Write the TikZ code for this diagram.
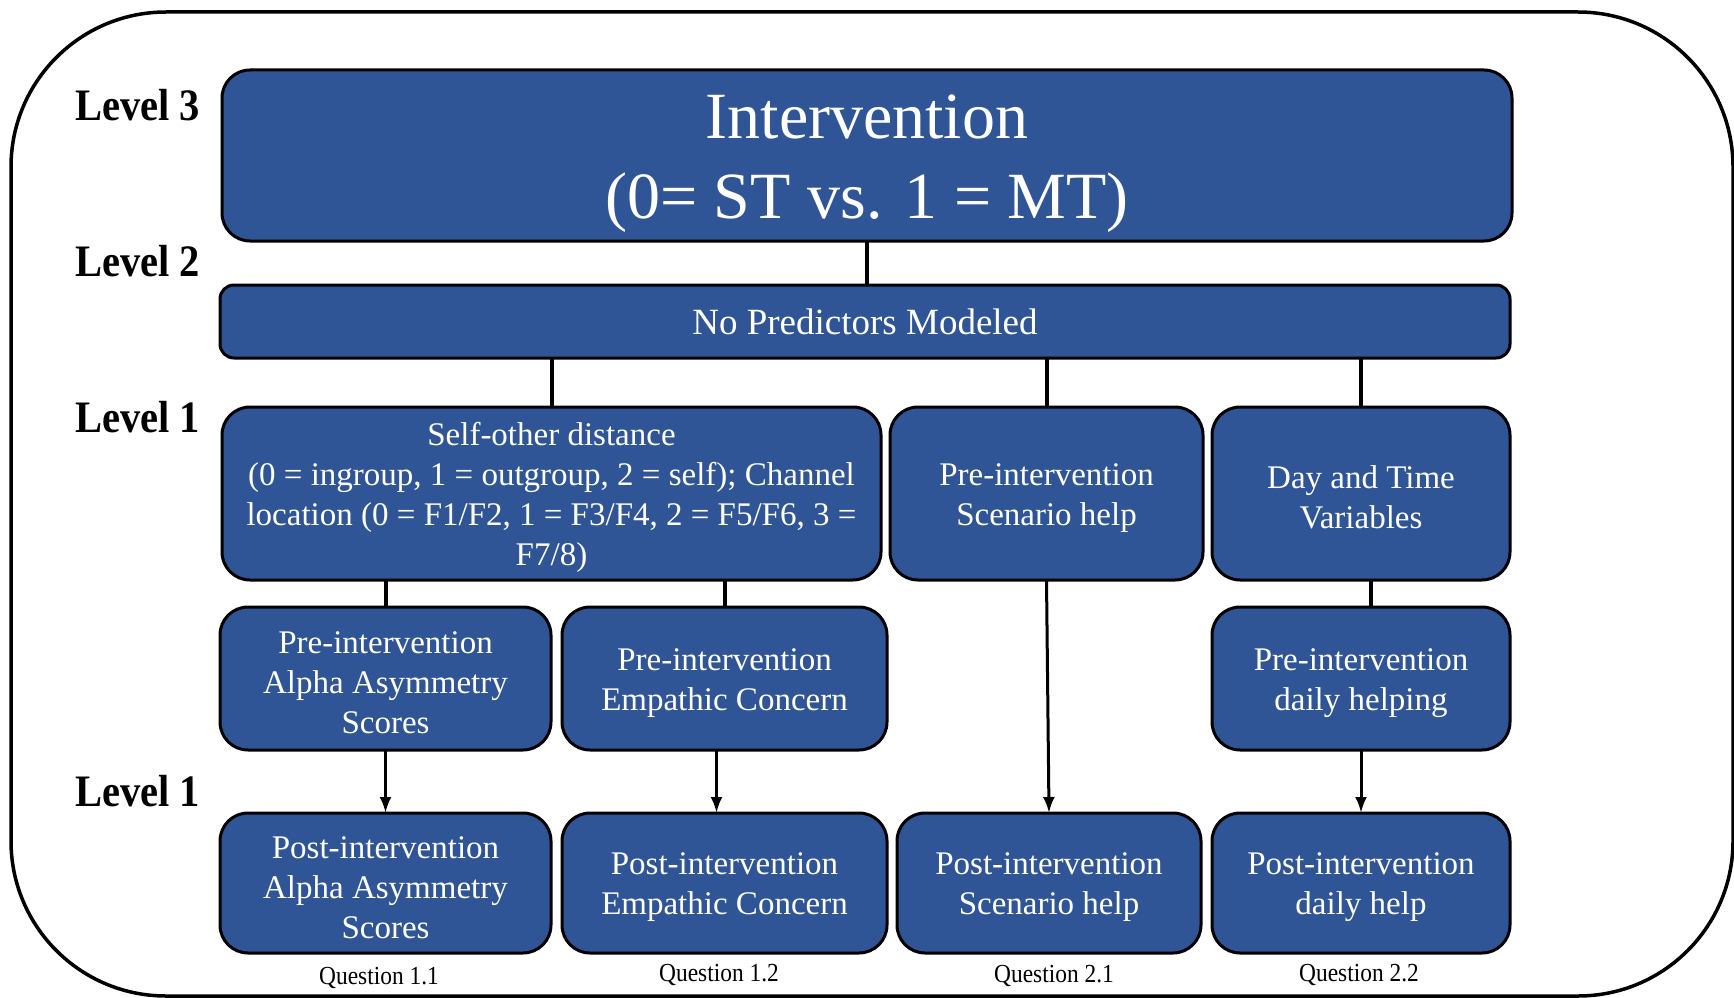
\documentclass[tikz,border=0pt]{standalone}
\usepackage{fontspec}
\setmainfont{Liberation Serif}
\newfontfamily\levelfont{Liberation Serif}[FakeStretch=0.9]
\usepackage{tikz}
\usetikzlibrary{positioning}
\usetikzlibrary{arrows.meta}
\definecolor{boxblue}{HTML}{2F5597}
\newcommand\boxlift{\rule{0pt}{31pt}}
\newcommand\titlelift{\rule{0pt}{60pt}}
\tikzset{
  box/.style       = {shape=rectangle, rounded corners=28pt,
                      draw=black, line width=3pt, fill=boxblue,
                      text=white, align=center, inner sep=0pt, outer sep=0pt,
                      font=\fontsize{33}{40}\selectfont},
  titlebox/.style  = {box, font=\fontsize{66}{80}\selectfont},
  flatbox/.style   = {box, rounded corners=14pt, font=\fontsize{37}{44}\selectfont},
  levellabel/.style = {anchor=west, inner sep=0pt, font=\levelfont\bfseries\fontsize{45}{50}\selectfont},
  qlabel/.style    = {inner sep=0pt, font=\levelfont\fontsize{26}{30}\selectfont},
  link/.style      = {line width=4pt},
  flow/.style      = {line width=3pt, -{Latex[length=16pt,width=12pt]}}
}
\begin{document}
\begin{tikzpicture}[x=1pt,y=-1pt]
  \useasboundingbox (0,0) rectangle (1734,998);
  % frame
  \draw[line width=3.5pt, rounded corners=155pt] (11,12) rectangle (1733,996);

  % level 3 and 2
  \node[titlebox, anchor=north west, minimum width=1290pt, minimum height=171pt]
    (interv) at (222,70) {\titlelift Intervention\\(0= ST vs. 1 = MT)};
  \node[flatbox, anchor=north west, minimum width=1290pt, minimum height=73pt]
    (nopred) at (220,285) {No Predictors Modeled};

  % level 1 predictors
  \node[box, anchor=north west, minimum width=659pt, minimum height=173pt]
    (selfother) at (222,407) {\boxlift Self-other distance\\(0 = ingroup, 1 = outgroup, 2 = self); Channel\\location (0 = F1/F2, 1 = F3/F4, 2 = F5/F6, 3 =\\F7/8)};
  \node[box, minimum width=313pt, minimum height=173pt]
    (scenario) [right=9pt of selfother] {\boxlift Pre-intervention\\Scenario help};
  \node[box, minimum width=298pt, minimum height=173pt]
    (daytime) [right=9pt of scenario] {\boxlift Day and Time\\Variables};

  \node[box, anchor=north west, minimum width=331pt, minimum height=143pt]
    (prealpha) at (220,607) {\boxlift Pre-intervention\\Alpha Asymmetry\\Scores};
  \node[box, minimum width=325pt, minimum height=143pt]
    (preempathy) [right=11pt of prealpha] {\boxlift Pre-intervention\\Empathic Concern};
  \node[box, anchor=north west, minimum width=298pt, minimum height=143pt]
    (predaily) at (1212,607) {\boxlift Pre-intervention\\daily helping};

  % level 1 outcomes
  \node[box, anchor=north west, minimum width=331pt, minimum height=140pt]
    (postalpha) at (220,813) {\boxlift Post-intervention\\Alpha Asymmetry\\Scores};
  \node[box, minimum width=325pt, minimum height=140pt]
    (postempathy) [right=11pt of postalpha] {\boxlift Post-intervention\\Empathic Concern};
  \node[box, minimum width=304pt, minimum height=140pt]
    (postscenario) [right=10pt of postempathy] {\boxlift Post-intervention\\Scenario help};
  \node[box, minimum width=298pt, minimum height=140pt]
    (postdaily) [right=11pt of postscenario] {\boxlift Post-intervention\\daily help};

  % labels
  \node[levellabel] (lvlthree) at (75,105) {Level 3};
  \node[levellabel] (lvltwo)   at (75,261) {Level 2};
  \node[levellabel] (lvlone)   at (75,417) {Level 1};
  \node[levellabel] (lvloneb)  at (75,791) {Level 1};
  \node[qlabel] (qonea) at (379,978)  {Question 1.1};
  \node[qlabel] (qoneb) at (719,975)  {Question 1.2};
  \node[qlabel] (qtwoa) at (1054,976) {Question 2.1};
  \node[qlabel] (qtwob) at (1359,975) {Question 2.2};

  % connectors
  \draw[link] (interv.south) -- (interv.south |- nopred.north);
  \draw[link] (nopred.south -| selfother.north) -- (selfother.north);
  \draw[link] (nopred.south -| scenario.north) -- (scenario.north);
  \draw[link] (nopred.south -| daytime.north) -- (daytime.north);
  \draw[link] (selfother.south -| prealpha.north) -- (prealpha.north);
  \draw[link] (selfother.south -| preempathy.north) -- (preempathy.north);
  \draw[link] ([xshift=10pt]daytime.south) -- ([xshift=10pt]predaily.north);
  \draw[flow] (prealpha.south) -- (postalpha.north);
  \draw[flow] ([xshift=-8pt]preempathy.south) -- ([xshift=-8pt]postempathy.north);
  \draw[flow] (scenario.south) -- (postscenario.north);
  \draw[flow] (predaily.south) -- (postdaily.north);
\end{tikzpicture}
\end{document}
